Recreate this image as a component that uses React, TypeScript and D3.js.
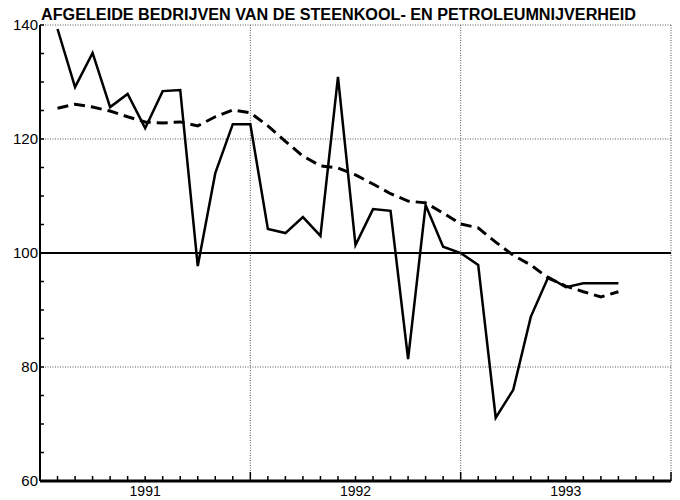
import React, { useRef, useEffect } from 'react';
import * as d3 from 'd3';

const title = 'AFGELEIDE BEDRIJVEN VAN DE STEENKOOL- EN PETROLEUMNIJVERHEID';
const years = ['1991', '1992', '1993'];
const yTicks = [60, 80, 100, 120, 140];

// monthly index (month 1 = januari 1991 end) ... 33 months
const actual = [
  139.3, 129.1, 135.1, 125.6, 127.9, 121.9, 128.4, 128.6, 97.7, 114.0, 122.6, 122.6,
  104.2, 103.5, 106.3, 103.0, 130.9, 101.4, 107.7, 107.4, 81.4, 108.4, 101.1, 100.0,
  97.9, 71.1, 76.0, 88.8, 95.8, 94.0, 94.7, 94.7, 94.7,
];
const trend = [
  125.4, 126.1, 125.6, 124.9, 123.9, 123.0, 122.8, 123.0, 122.3, 123.9, 125.1, 124.6,
  122.3, 119.6, 117.0, 115.3, 114.9, 113.7, 112.1, 110.4, 109.1, 108.8, 107.0, 105.1,
  104.4, 101.9, 99.6, 97.9, 95.6, 94.2, 93.2, 92.3, 93.2,
];

const App = () => {
  const ref = useRef<SVGSVGElement>(null);

  useEffect(() => {
    const svg = d3.select(ref.current);
    svg.selectAll('*').remove();

    const width = 680;
    const height = 500;
    const margin = { top: 25, right: 9, bottom: 19, left: 40 };
    const font = '"Liberation Sans", Arial, sans-serif';

    const x = d3.scaleLinear().domain([0, 36]).range([margin.left, width - margin.right]);
    const y = d3.scaleLinear().domain([60, 140]).range([height - margin.bottom, margin.top]);

    svg.append('rect').attr('width', width).attr('height', height).attr('fill', '#fff');

    // dotted grid
    const grid = svg.append('g').attr('stroke', '#555').attr('stroke-width', 1).attr('stroke-dasharray', '1,1.5');
    grid.selectAll('line.h').data([80, 120, 140]).join('line')
      .attr('x1', x(0)).attr('x2', x(36)).attr('y1', d => y(d)).attr('y2', d => y(d));
    grid.selectAll('line.v').data([12, 24, 36]).join('line').attr('class', 'v')
      .attr('x1', d => x(d)).attr('x2', d => x(d)).attr('y1', y(140)).attr('y2', y(60));

    // 100 base line
    svg.append('line').attr('x1', x(0)).attr('x2', x(36)).attr('y1', y(100)).attr('y2', y(100))
      .attr('stroke', '#000').attr('stroke-width', 2);

    // left axis
    svg.append('line').attr('x1', x(0)).attr('x2', x(0)).attr('y1', y(140)).attr('y2', y(60))
      .attr('stroke', '#000').attr('stroke-width', 2);
    svg.append('g').selectAll('line').data(d3.range(60, 141, 5)).join('line')
      .attr('x1', x(0)).attr('x2', x(0) + 4).attr('y1', d => y(d)).attr('y2', d => y(d))
      .attr('stroke', '#000').attr('stroke-width', 1.5);
    svg.append('g').selectAll('text').data(yTicks).join('text')
      .attr('x', x(0) - 2).attr('y', d => y(d) + 5).attr('text-anchor', 'end')
      .attr('font-family', font).attr('font-size', 15).attr('fill', '#000')
      .text(d => d);

    // bottom axis
    svg.append('line').attr('x1', x(0)).attr('x2', x(36)).attr('y1', y(60)).attr('y2', y(60))
      .attr('stroke', '#000').attr('stroke-width', 3);
    svg.append('g').selectAll('line').data(d3.range(1, 37)).join('line')
      .attr('x1', d => x(d)).attr('x2', d => x(d)).attr('y1', y(60))
      .attr('y2', d => y(60) - (d % 12 === 0 ? 9 : 5))
      .attr('stroke', '#000').attr('stroke-width', 1.5);
    svg.append('g').selectAll('text').data(years).join('text')
      .attr('x', (d, i) => x(i * 12 + 6)).attr('y', 496).attr('text-anchor', 'middle')
      .attr('font-family', font).attr('font-size', 14).attr('fill', '#000')
      .text(d => d);

    // lines
    const line = d3.line<number>().x((d, i) => x(i + 1)).y(d => y(d));
    svg.append('path').datum(trend).attr('d', line).attr('fill', 'none')
      .attr('stroke', '#000').attr('stroke-width', 3).attr('stroke-dasharray', '11,6');
    svg.append('path').datum(actual).attr('d', line).attr('fill', 'none')
      .attr('stroke', '#000').attr('stroke-width', 2.5).attr('stroke-linejoin', 'miter');

    // title
    svg.append('text').attr('x', 41).attr('y', 20)
      .attr('font-family', font).attr('font-weight', 'bold').attr('font-size', 16)
      .attr('textLength', 595).attr('lengthAdjust', 'spacingAndGlyphs')
      .attr('fill', '#000').text(title);
  }, []);

  return (
    <svg ref={ref} width={680} height={500}
      style={{ position: 'absolute', left: 0, top: 0 }} />
  );
};

export default App;
